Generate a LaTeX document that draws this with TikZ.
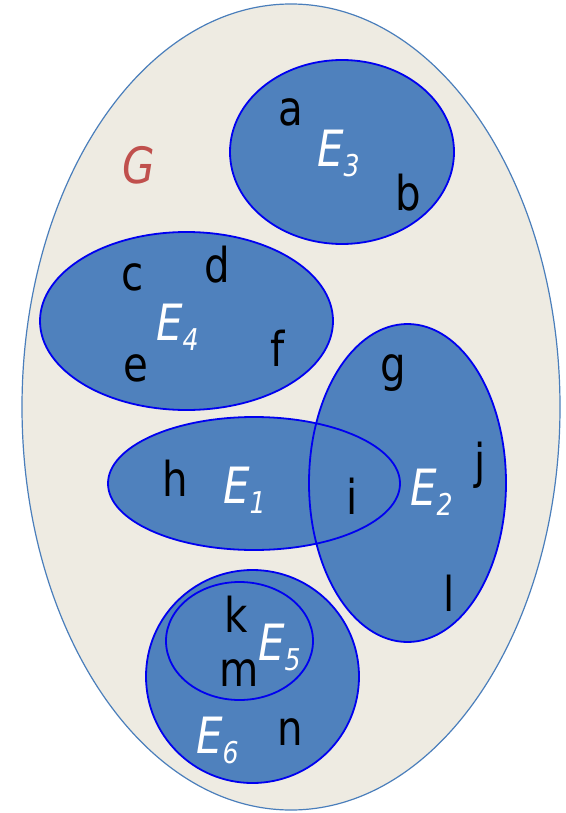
\documentclass[tikz,border=0pt]{standalone}
\usepackage{fontspec}
\setmainfont{DejaVu Sans}
\newfontfamily\lab[FakeStretch=0.84]{DejaVu Sans}
\definecolor{setblue}{HTML}{4F81BD}
\definecolor{setedge}{HTML}{0000F0}
\definecolor{outerfill}{HTML}{EEEBE2}
\definecolor{outeredge}{HTML}{4A7EBB}
\definecolor{gred}{HTML}{C0504D}
\newcommand{\ssub}[1]{\raisebox{-10pt}{\fontsize{30}{30}\selectfont #1}}
\begin{document}
\begin{tikzpicture}[x=1pt,y=-1pt,
  setfill/.style={fill=setblue},
  setline/.style={draw=setedge, line width=1.8pt},
  elem/.style={font=\lab\fontsize{48}{48}\selectfont, text=black, inner sep=0pt},
  setname/.style={font=\lab\itshape\fontsize{50}{50}\selectfont, text=white, inner sep=0pt, anchor=base west},
  gname/.style={font=\lab\itshape\fontsize{50}{50}\selectfont, text=gred, inner sep=0pt}]
\useasboundingbox (0,0) rectangle (565,813);
% outer graph
\path[fill=outerfill, draw=outeredge, line width=1.2pt] (291,407) ellipse [x radius=269pt, y radius=403pt];
% fills
\path[setfill] (342,152) ellipse [x radius=112pt, y radius=92pt];
\path[setfill] (186.5,321) ellipse [x radius=146.5pt, y radius=89pt];
\path[setfill] (407.5,483) ellipse [x radius=98.5pt, y radius=159pt];
\path[setfill] (254,483.5) ellipse [x radius=146pt, y radius=66.5pt];
\path[setfill] (252.5,676.5) ellipse [x radius=106.5pt, y radius=106.5pt];
\path[setfill] (239.5,641) ellipse [x radius=73.5pt, y radius=59pt];
% outlines
\path[setline] (342,152) ellipse [x radius=112pt, y radius=92pt];
\path[setline] (186.5,321) ellipse [x radius=146.5pt, y radius=89pt];
\path[setline] (407.5,483) ellipse [x radius=98.5pt, y radius=159pt];
\path[setline] (254,483.5) ellipse [x radius=146pt, y radius=66.5pt];
\path[setline] (252.5,676.5) ellipse [x radius=106.5pt, y radius=106.5pt];
\path[setline] (239.5,641) ellipse [x radius=73.5pt, y radius=59pt];
% graph name
\node[gname] (G) at (139,165) {G};
% set names
\node[setname] (E3) at (317,167) {E\ssub{3}};
\node[setname] (E4) at (156,340) {E\ssub{4}};
\node[setname] (E1) at (223,503) {E\ssub{1}};
\node[setname] (E2) at (410,505) {E\ssub{2}};
\node[setname] (E5) at (258,660) {E\ssub{5}};
\node[setname] (E6) at (196,753) {E\ssub{6}};
% elements
\node[elem] (a) at (291,112) {a};
\node[elem] (b) at (408,193) {b};
\node[elem] (c) at (133,277) {c};
\node[elem] (d) at (217,265) {d};
\node[elem] (e) at (136,368) {e};
\node[elem] (f) at (278,348) {f};
\node[elem] (g) at (393,373) {g};
\node[elem] (h) at (175,478) {h};
\node[elem] (i) at (352,496) {i};
\node[elem] (j) at (480,465) {j};
\node[elem] (k) at (236,614) {k};
\node[elem] (l) at (449,593) {l};
\node[elem] (m) at (239,673) {m};
\node[elem] (n) at (290,732) {n};
\end{tikzpicture}
\end{document}
